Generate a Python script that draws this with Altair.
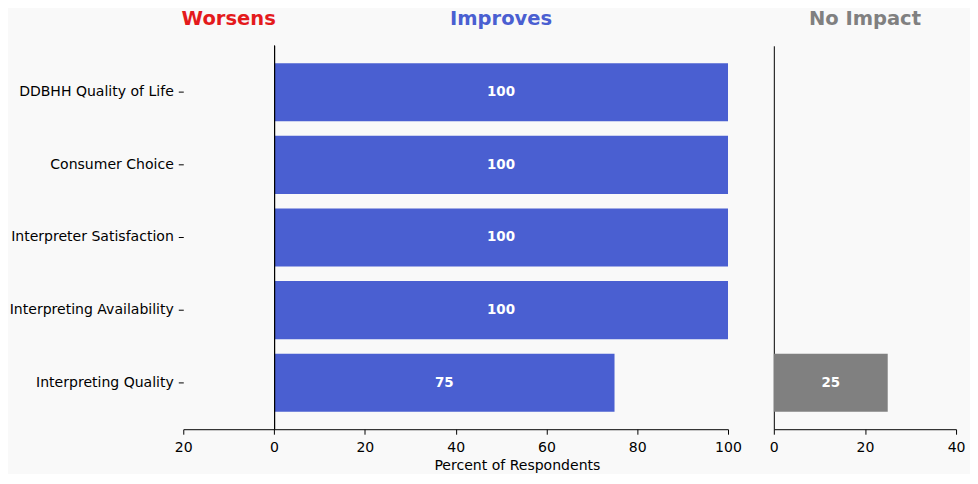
import altair as alt
import pandas as pd

categories = [
    "DDBHH Quality of Life",
    "Consumer Choice",
    "Interpreter Satisfaction",
    "Interpreting Availability",
    "Interpreting Quality",
]
worsens = [0, 0, 0, 0, 0]
improves = [100, 100, 100, 100, 75]
no_impact = [0, 0, 0, 0, 25]

BLUE = "#4a5fd1"
RED = "#e41a1c"
GRAY = "#808080"
FONT = "DejaVu Sans"
LBL = 14.1
TTL = 19.6

df = pd.DataFrame({
    "category": categories,
    "worsens": worsens,
    "improves": improves,
    "no_impact": no_impact,
})

H = 385
yscale = alt.Scale(paddingInner=0.2, paddingOuter=0.24)
Y = alt.Y("category:N", sort=categories, scale=yscale)


def title_text(text, color, xval, xscale):
    return alt.Chart(pd.DataFrame({"t": [text]})).mark_text(
        color=color, fontSize=TTL, fontWeight="bold", font=FONT,
        baseline="alphabetic", align="center",
    ).encode(
        x=alt.X("xp:Q", scale=xscale),
        y=alt.value(-21),
        text="t:N",
    ).transform_calculate(xp=str(xval))


def bar_labels(field, xscale):
    return alt.Chart(df).transform_filter(
        f"datum.{field} > 0"
    ).transform_calculate(
        mid=f"datum.{field} / 2"
    ).mark_text(color="white", fontWeight="bold", fontSize=13.5, font=FONT).encode(
        x=alt.X("mid:Q", scale=xscale),
        y=Y,
        text=alt.Text(f"{field}:Q"),
    )


# ---- combined Worsens / Improves panel ----
xs_main = alt.Scale(domain=[-20, 100], nice=False, zero=False)
x_axis_main = alt.Axis(
    values=[-20, 0, 20, 40, 60, 80, 100],
    labelExpr="abs(datum.value)",
    grid=False,
    labelFlush=False,
    title="Percent of Respondents",
    titleX=335,
    titleFontWeight="normal",
    titleFontSize=LBL,
    titlePadding=4,
)
y_axis_main = alt.Axis(title=None, labels=True, ticks=True, domain=False,
                       labelFontSize=LBL, labelPadding=5)

improve_bars = alt.Chart(df).mark_bar(color=BLUE).encode(
    x=alt.X("improves:Q", scale=xs_main, axis=x_axis_main),
    x2=alt.datum(0),
    y=alt.Y("category:N", sort=categories, scale=yscale, axis=y_axis_main),
)
worsen_bars = alt.Chart(df).transform_filter("datum.worsens > 0").transform_calculate(
    neg="-datum.worsens"
).mark_bar(color=RED).encode(
    x=alt.X("neg:Q", scale=xs_main),
    x2=alt.datum(0),
    y=Y,
)
zero_rule = alt.Chart(df).mark_rule(color="black", strokeWidth=1, xOffset=0.5).encode(
    x=alt.datum(0),
    y=alt.value(0),
    y2=alt.value(H),
)

main = alt.layer(
    worsen_bars,
    improve_bars,
    zero_rule,
    bar_labels("improves", xs_main),
    title_text("Worsens", RED, -10, xs_main),
    title_text("Improves", BLUE, 50, xs_main),
).properties(width=547, height=H)

# ---- No Impact panel ----
xs_right = alt.Scale(domain=[0, 40], nice=False, zero=False)
right_bars = alt.Chart(df).mark_bar(color=GRAY).encode(
    x=alt.X("no_impact:Q", scale=xs_right,
            axis=alt.Axis(values=[0, 20, 40], grid=False, labelFlush=False, title=None)),
    y=alt.Y("category:N", sort=categories, scale=yscale,
            axis=alt.Axis(title=None, labels=False, ticks=False, domain=True)),
)
right = alt.layer(
    right_bars,
    bar_labels("no_impact", xs_right),
    title_text("No Impact", GRAY, 20, xs_right),
).properties(width=183, height=H)

chart = alt.hconcat(main, right, spacing=46, bounds="flush").properties(
    padding={"left": 1, "top": 0, "right": 5, "bottom": 0}
).configure(
    background="#f9f9f9",
    font=FONT,
).configure_view(
    stroke=None,
).configure_axis(
    labelFont=FONT,
    titleFont=FONT,
    labelFontSize=LBL,
    labelColor="black",
    titleColor="black",
    tickColor="black",
    domainColor="black",
    tickSize=5,
    domainWidth=1,
    tickWidth=1,
).configure_axisX(
    labelPadding=6,
)

chart.save("out.html", embed_options={"renderer": "svg", "actions": False})
